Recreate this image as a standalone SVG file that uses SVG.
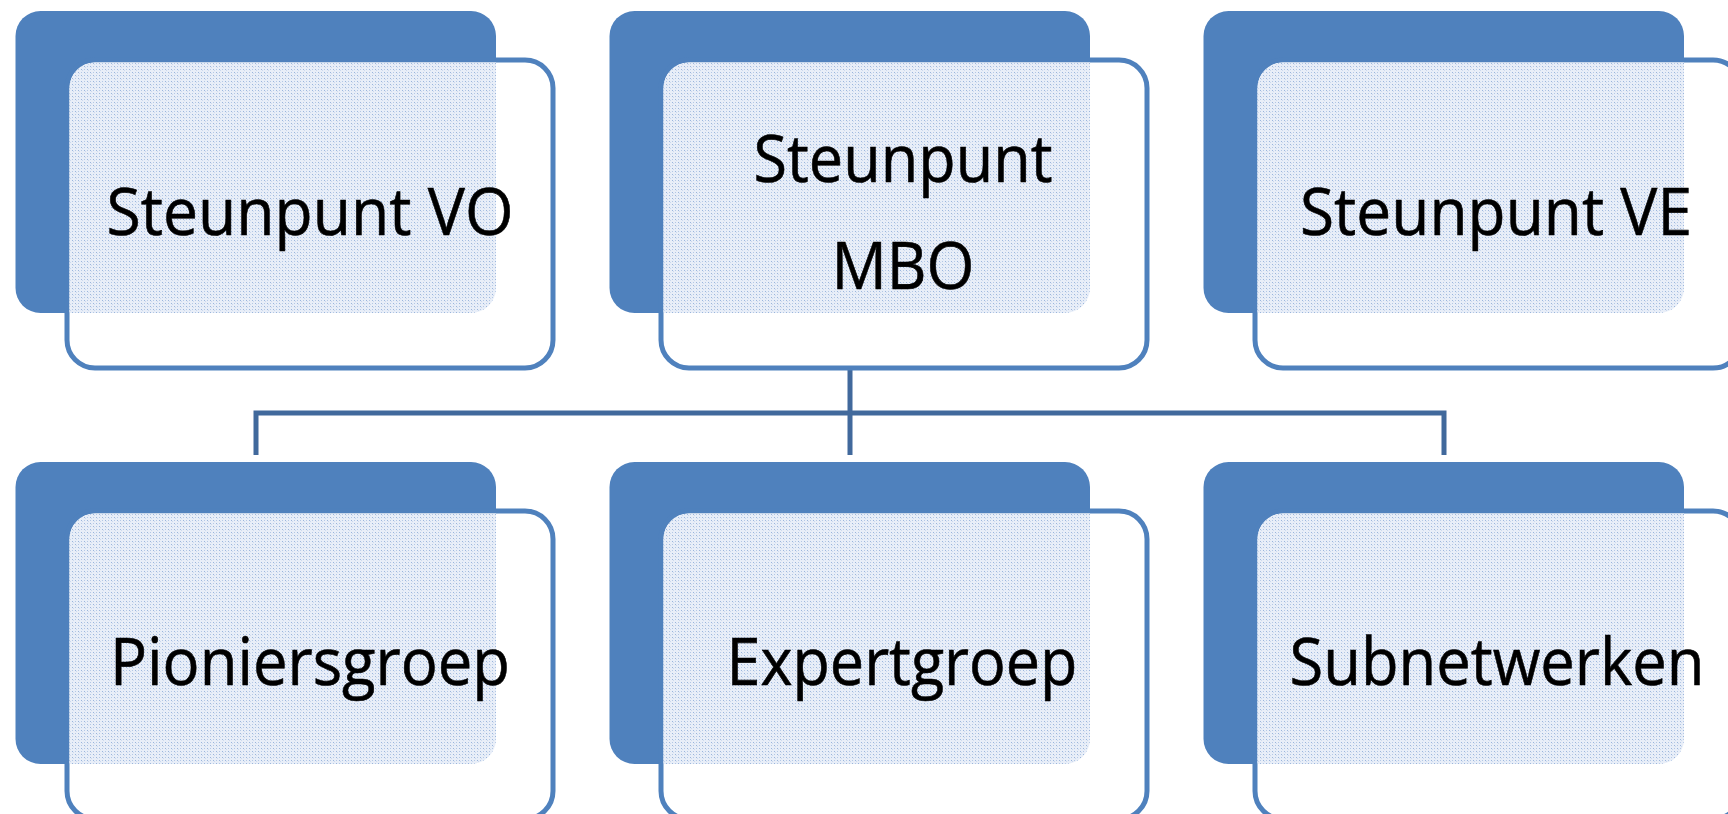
<svg xmlns="http://www.w3.org/2000/svg" xmlns:xlink="http://www.w3.org/1999/xlink" width="1728" height="814" viewBox="0 0 1728 814">
  <style>
    .back { fill: #4f81bd; }
    .front { fill: #ffffff; stroke: #4f81bd; stroke-width: 5; }
    .label { font-family: "Open Sans", "Liberation Sans", sans-serif; font-size: 66px; fill: #000000; stroke: #000000; stroke-width: 0.6; text-anchor: middle; }
    .conn { fill: none; stroke: #41699c; stroke-width: 5; stroke-linecap: butt; stroke-linejoin: miter; }
    .faint { fill: none; stroke: #b4c7e2; stroke-width: 4; stroke-dasharray: 1 2; }
  </style>
  <defs>
    <pattern id="dots" x="0" y="0" width="6" height="6" patternUnits="userSpaceOnUse">
      <rect width="6" height="6" fill="#e8eef8"/>
      <rect x="0" y="0" width="1" height="1" fill="#9ab5dc"/>
      <rect x="3" y="0" width="1" height="1" fill="#b4c8e5"/>
      <rect x="0" y="3" width="1" height="1" fill="#b4c8e5"/>
      <rect x="3" y="3" width="1" height="1" fill="#9ab5dc"/>
      <rect x="1" y="1" width="1" height="1" fill="#ccd9ee"/>
      <rect x="4" y="4" width="1" height="1" fill="#ccd9ee"/>
    </pattern>
    <clipPath id="backClip">
      <rect x="15.5" y="11" width="480.5" height="302" rx="25"/>
    </clipPath>
    <g id="card">
      <rect class="back" x="15.5" y="11" width="480.5" height="302" rx="25"/>
      <rect class="front" x="67" y="60" width="486" height="308" rx="28"/>
      <rect x="69.5" y="62.5" width="481" height="303" rx="25.5" fill="url(#dots)" clip-path="url(#backClip)"/>
    </g>
  </defs>

  <g id="connectors">
    <line class="faint" x1="850" y1="318" x2="850" y2="366"/>
    <path class="conn" d="M850 368 V455 M256 455 V413 H1444 V455"/>
  </g>

  <g id="steunpunt-vo">
    <use xlink:href="#card" href="#card"/>
    <text class="label" x="310" y="235" textLength="407" lengthAdjust="spacingAndGlyphs">Steunpunt VO</text>
  </g>

  <g id="steunpunt-mbo" transform="translate(594,0)">
    <use xlink:href="#card" href="#card"/>
    <text class="label" x="309" y="182" textLength="299" lengthAdjust="spacingAndGlyphs">Steunpunt</text>
    <text class="label" x="309" y="289" textLength="143" lengthAdjust="spacingAndGlyphs">MBO</text>
  </g>

  <g id="steunpunt-ve" transform="translate(1188,0)">
    <use xlink:href="#card" href="#card"/>
    <text class="label" x="308" y="235" textLength="392" lengthAdjust="spacingAndGlyphs">Steunpunt VE</text>
  </g>

  <g id="pioniersgroep" transform="translate(0,451)">
    <use xlink:href="#card" href="#card"/>
    <text class="label" x="310" y="234" textLength="400" lengthAdjust="spacingAndGlyphs">Pioniersgroep</text>
  </g>

  <g id="expertgroep" transform="translate(594,451)">
    <use xlink:href="#card" href="#card"/>
    <text class="label" x="308" y="234" textLength="351" lengthAdjust="spacingAndGlyphs">Expertgroep</text>
  </g>

  <g id="subnetwerken" transform="translate(1188,451)">
    <use xlink:href="#card" href="#card"/>
    <text class="label" x="309" y="234" textLength="415" lengthAdjust="spacingAndGlyphs">Subnetwerken</text>
  </g>
</svg>
